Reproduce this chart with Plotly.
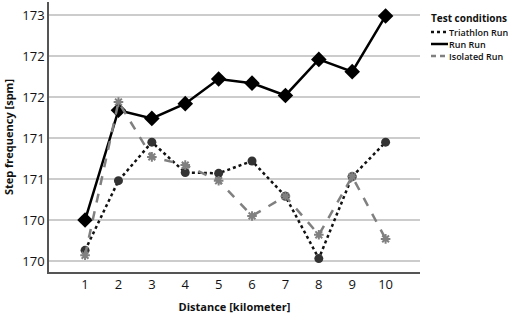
import plotly.graph_objects as go

distance = [1, 2, 3, 4, 5, 6, 7, 8, 9, 10]
triathlon_run = [170.13, 170.98, 171.45, 171.08, 171.07, 171.22, 170.79, 170.03, 171.03, 171.45]
run_run = [170.50, 171.84, 171.74, 171.92, 172.22, 172.17, 172.02, 172.46, 172.31, 172.99]
isolated_run = [170.07, 171.94, 171.27, 171.17, 170.98, 170.55, 170.79, 170.32, 171.03, 170.27]

series_names = ["Triathlon Run", "Run Run", "Isolated Run"]
y_tickvals = [170.0, 170.5, 171.0, 171.5, 172.0, 172.5, 173.0]
y_ticktext = ["170", "170", "171", "171", "172", "172", "173"]

font_family = "Open Sans, DejaVu Sans, sans-serif"

styles = [
    (dict(color="#111111", width=2.5, dash="dot"),
     dict(symbol="circle", size=9, color="#333333")),
    (dict(color="#000000", width=2.5),
     dict(symbol="diamond", size=12, color="#000000")),
    (dict(color="#808080", width=2.5, dash="dash"),
     dict(symbol="asterisk", size=8, color="#808080", line=dict(color="#808080", width=2))),
]
values = [triathlon_run, run_run, isolated_run]

fig = go.Figure()
for name, vals, (line, marker) in zip(series_names, values, styles):
    fig.add_trace(go.Scatter(x=distance, y=vals, name=name, mode="lines+markers",
                             line=line, marker=marker, showlegend=False))

# custom compact legend (paper coordinates)
plot_l, plot_r, plot_t, plot_b = 49, 420, 2, 272
def px_to_paper_x(px):
    return (px - plot_l) / (plot_r - plot_l)
def py_to_paper_y(py):
    return (plot_b - py) / (plot_b - plot_t)

shapes = []
annotations = [dict(text="<b>Test conditions</b>", x=px_to_paper_x(429), y=py_to_paper_y(18),
                    xref="paper", yref="paper", xanchor="left", yanchor="middle",
                    showarrow=False, font=dict(size=10))]
legend_rows = [32, 44, 56]
for name, (line, marker), row in zip(series_names, styles, legend_rows):
    shapes.append(dict(type="line", xref="paper", yref="paper",
                       x0=px_to_paper_x(431), x1=px_to_paper_x(448),
                       y0=py_to_paper_y(row), y1=py_to_paper_y(row),
                       line=dict(color=line["color"], width=2.5,
                                 dash="dot" if line.get("dash") == "dot" else
                                 ("5px,4px" if line.get("dash") == "dash" else "solid"))))
    annotations.append(dict(text=name, x=px_to_paper_x(448), y=py_to_paper_y(row),
                            xref="paper", yref="paper", xanchor="left", yanchor="middle",
                            showarrow=False, height=10, borderpad=0,
                            font=dict(size=9, weight=600)))

fig.update_layout(
    width=513, height=314,
    margin=dict(l=plot_l, r=513 - plot_r, t=plot_t, b=314 - plot_b),
    plot_bgcolor="white", paper_bgcolor="white",
    font=dict(family=font_family, color="#111111", size=13),
    showlegend=False,
    shapes=shapes,
    annotations=annotations,
    xaxis=dict(
        range=[-0.08, 11.03], tickvals=distance, ticktext=[str(d) for d in distance],
        showgrid=False, zeroline=False, showline=True, linecolor="#555555", linewidth=1.5,
        ticks="", automargin=False,
        title=dict(text="<b>Distance [kilometer]</b>", font=dict(size=11), standoff=12),
    ),
    yaxis=dict(
        range=[169.866, 173.16], tickvals=y_tickvals, ticktext=y_ticktext,
        showgrid=True, gridcolor="#cccccc", gridwidth=1.5, zeroline=False,
        showline=True, linecolor="#555555", linewidth=1.5, ticks="", automargin=False,
        title=dict(text="<b>Step frequency [spm]</b>", font=dict(size=11), standoff=6),
    ),
)

fig.write_html(
    "out.html",
    config={"displayModeBar": False},
    post_script="document.body.style.margin='0';document.body.style.padding='0';",
)
